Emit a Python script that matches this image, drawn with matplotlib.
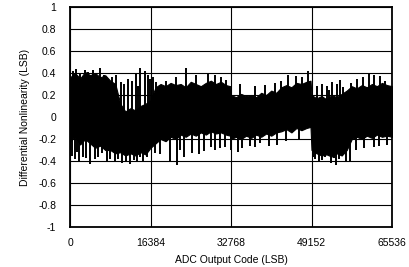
import matplotlib
matplotlib.use("Agg")
import matplotlib.pyplot as plt

# Core band envelope of the DNL trace (code, upper, lower)
env_codes = [0, 1024, 2048, 3072, 4096, 5120, 6144, 7168, 8192, 9216,
             10240, 11264, 12288, 13312, 14336, 15360, 16384, 17408, 18432, 19456,
             20480, 21504, 22528, 23552, 24576, 25600, 26624, 27648, 28672, 29696,
             30720, 31744, 32600, 32768, 33792, 34816, 35840, 36864, 37888, 38912,
             39936, 40960, 41984, 43008, 44032, 45056, 46080, 47104, 48128, 48950,
             49152, 50176, 51200, 52224, 53248, 54272, 55296, 56320, 57344, 58368,
             59392, 60416, 61440, 62464, 63488, 64512, 65536]
env_upper = [0.36, 0.40, 0.35, 0.41, 0.38, 0.40, 0.36, 0.38, 0.33, 0.30,
             0.12, 0.05, 0.08, 0.06, 0.10, 0.12, 0.15, 0.27, 0.30, 0.28,
             0.31, 0.29, 0.30, 0.27, 0.32, 0.30, 0.28, 0.31, 0.33, 0.30,
             0.32, 0.29, 0.28, 0.20, 0.18, 0.21, 0.19, 0.20, 0.18, 0.22,
             0.20, 0.24, 0.22, 0.27, 0.29, 0.27, 0.31, 0.30, 0.32, 0.33,
             0.20, 0.17, 0.19, 0.16, 0.20, 0.18, 0.21, 0.24, 0.28, 0.26,
             0.29, 0.27, 0.30, 0.28, 0.31, 0.29, 0.28]
env_lower = [-0.22, -0.18, -0.25, -0.20, -0.24, -0.28, -0.26, -0.30, -0.30, -0.33,
             -0.32, -0.35, -0.33, -0.35, -0.32, -0.34, -0.28, -0.24, -0.20, -0.22,
             -0.18, -0.20, -0.16, -0.18, -0.15, -0.17, -0.14, -0.16, -0.13, -0.15,
             -0.14, -0.16, -0.17, -0.20, -0.18, -0.20, -0.17, -0.19, -0.16, -0.18,
             -0.15, -0.17, -0.14, -0.13, -0.11, -0.14, -0.10, -0.12, -0.10, -0.09,
             -0.30, -0.33, -0.35, -0.34, -0.36, -0.33, -0.35, -0.30, -0.20, -0.18,
             -0.20, -0.17, -0.19, -0.16, -0.18, -0.17, -0.18]

# Positive spikes (code, peak DNL)
up_codes = [609, 1218, 2030, 3045, 3654, 4669, 6090, 6902, 8526, 9338, 10353, 11004,
            11774, 12586, 13398, 13804, 14210, 15225, 15834, 16240, 16849, 17458,
            19488, 21518, 23548, 25578, 28014, 29435, 30653, 31668, 34510, 37555,
            39788, 41818, 43036, 44457, 46081, 47299, 48517, 50344, 51359, 52374,
            52780, 53389, 54404, 55013, 55622, 57246, 58464, 59682, 60900, 61915,
            63133, 64148]
up_peaks = [0.42, 0.44, 0.40, 0.43, 0.41, 0.43, 0.45, 0.38, 0.36, 0.38, 0.32, 0.30,
            0.35, 0.33, 0.40, 0.28, 0.45, 0.42, 0.38, 0.35, 0.36, 0.32,
            0.33, 0.36, 0.45, 0.38, 0.40, 0.38, 0.36, 0.34, 0.30, 0.28,
            0.29, 0.31, 0.33, 0.38, 0.37, 0.36, 0.42, 0.28, 0.30, 0.28,
            0.25, 0.32, 0.30, 0.34, 0.27, 0.31, 0.35, 0.36, 0.40, 0.38,
            0.37, 0.33]

# Negative spikes (code, trough DNL)
dn_codes = [406, 1015, 1421, 1827, 2639, 3248, 4060, 5075, 5684, 6496, 7511, 8120,
            9135, 9744, 10556, 11368, 12180, 12992, 13601, 14210, 14819, 15631,
            17255, 18270, 20300, 21720, 22330, 23142, 24766, 26187, 27202, 28623,
            29435, 30450, 31465, 32683, 34104, 34916, 36540, 37555, 38570, 40600,
            42224, 44051, 46690, 49532, 49938, 50750, 51359, 51968, 53186, 53795,
            54201, 54810, 55419, 56231, 57043, 58261, 59885, 61915, 62930, 64554]
dn_peaks = [-0.35, -0.38, -0.32, -0.40, -0.36, -0.37, -0.43, -0.38, -0.36, -0.33, -0.40, -0.38,
            -0.41, -0.38, -0.42, -0.40, -0.43, -0.39, -0.40, -0.36, -0.41, -0.36,
            -0.33, -0.34, -0.40, -0.44, -0.30, -0.36, -0.33, -0.34, -0.31, -0.27,
            -0.30, -0.28, -0.27, -0.30, -0.32, -0.28, -0.26, -0.27, -0.24, -0.26,
            -0.25, -0.22, -0.21, -0.36, -0.38, -0.40, -0.39, -0.36, -0.42, -0.37,
            -0.44, -0.38, -0.35, -0.40, -0.41, -0.30, -0.28, -0.27, -0.26, -0.25]

x_ticks = [0, 16384, 32768, 49152, 65536]
x_tick_labels = ["0", "16384", "32768", "49152", "65536"]
y_ticks = [-1, -0.8, -0.6, -0.4, -0.2, 0, 0.2, 0.4, 0.6, 0.8, 1]
y_tick_labels = ["-1", "-0.8", "-0.6", "-0.4", "-0.2", "0", "0.2", "0.4", "0.6", "0.8", "1"]

plt.rcParams['font.family'] = ['Liberation Sans', 'DejaVu Sans']

fig = plt.figure(figsize=(4.09, 2.67), dpi=100)
ax = fig.add_axes([70 / 409, 40 / 267, 322 / 409, 220 / 267])

ax.fill_between(env_codes, env_lower, env_upper, color="black", linewidth=0.8, zorder=3)
ax.vlines(up_codes, 0, up_peaks, color="black", linewidth=1.4, zorder=3)
ax.vlines(dn_codes, dn_peaks, 0, color="black", linewidth=1.4, zorder=3)

ax.set_xlim(0, 65536)
ax.set_ylim(-1, 1)
ax.set_xticks(x_ticks)
ax.set_xticklabels(x_tick_labels)
ax.set_yticks(y_ticks)
ax.set_yticklabels(y_tick_labels)
ax.tick_params(length=0, labelsize=7.5, pad=8)
ax.tick_params(axis="y", pad=10)
ax.grid(True, color="black", linewidth=0.8)
ax.set_axisbelow(True)
for s in ax.spines.values():
    s.set_linewidth(1.3)

ax.set_xlabel("ADC Output Code (LSB)", fontsize=7.5, labelpad=5)
ax.set_ylabel("Differential Nonlinearity (LSB)", fontsize=7.5, labelpad=6)

fig.savefig("out.png", dpi=100)
